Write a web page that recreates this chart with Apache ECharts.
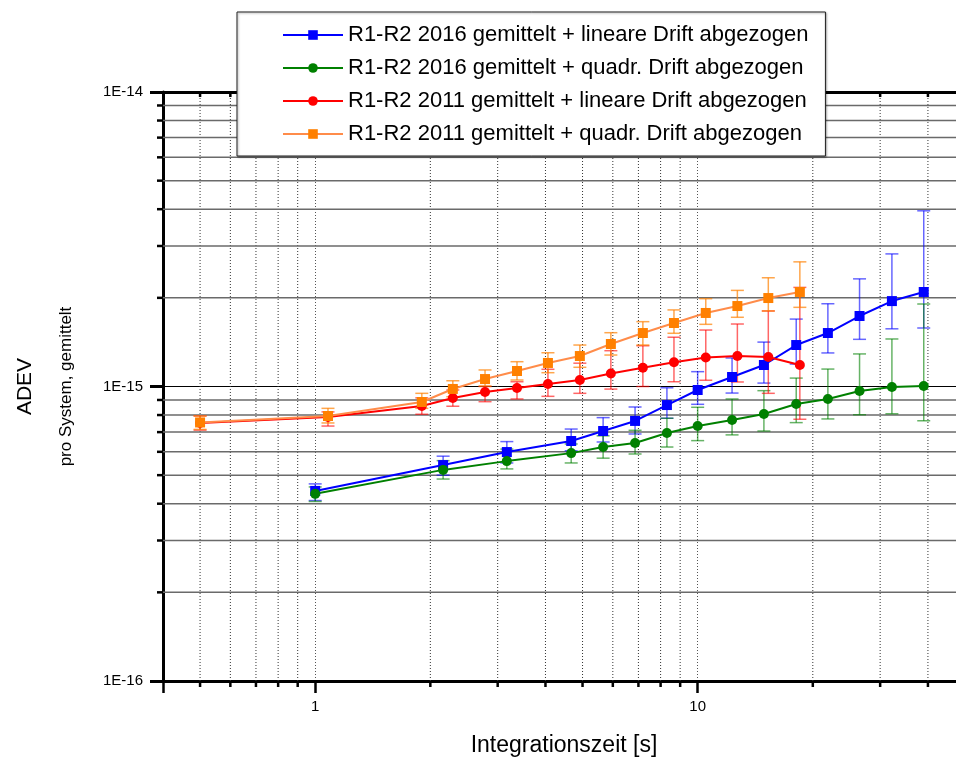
<!DOCTYPE html>
<html>
<head>
<meta charset="utf-8">
<title>ADEV</title>
<script src="https://cdn.jsdelivr.net/npm/echarts@6/dist/echarts.min.js"></script>
<style>
  html, body { margin: 0; padding: 0; background: #ffffff; }
  #chart { width: 956px; height: 758px; }
</style>
</head>
<body>
<div id="chart"></div>
<script>
// Axis ranges (log-log) and tick positions between the decades
const X_MIN = 0.4, X_MAX = 50;
const Y_MIN = 1e-16, Y_MAX = 1e-14;
const xMinorTicks = [0.5, 0.6, 0.7, 0.8, 0.9, 2, 3, 4, 5, 6, 7, 8, 9, 20, 30, 40];
const yMinorTicks = [2e-16, 3e-16, 4e-16, 5e-16, 6e-16, 7e-16, 8e-16, 9e-16,
                     2e-15, 3e-15, 4e-15, 5e-15, 6e-15, 7e-15, 8e-15, 9e-15];

const seriesNames = [
  'R1-R2 2016 gemittelt + lineare Drift abgezogen',
  'R1-R2 2016 gemittelt + quadr. Drift abgezogen',
  'R1-R2 2011 gemittelt + lineare Drift abgezogen',
  'R1-R2 2011 gemittelt + quadr. Drift abgezogen'
];

// Averaging times [s]
const tau2016 = [1.0, 2.16, 3.17, 4.67, 5.66, 6.86, 8.31, 10.0, 12.3, 14.9, 18.1, 21.9, 26.5, 32.2, 39.0];
const tau2011 = [0.5, 1.08, 1.90, 2.29, 2.78, 3.37, 4.06, 4.92, 5.93, 7.19, 8.67, 10.5, 12.7, 15.3, 18.5];

// 2016, linear drift removed
const adevLin2016 = [4.42e-16, 5.41e-16, 5.99e-16, 6.53e-16, 7.06e-16, 7.64e-16, 8.65e-16, 9.73e-16,
                     1.077e-15, 1.183e-15, 1.383e-15, 1.519e-15, 1.735e-15, 1.950e-15, 2.094e-15];
const lowLin2016  = [4.10e-16, 5.00e-16, 5.50e-16, 6.05e-16, 6.48e-16, 6.90e-16, 7.80e-16, 8.70e-16,
                     9.50e-16, 1.027e-15, 1.192e-15, 1.300e-15, 1.446e-15, 1.570e-15, 1.580e-15];
const highLin2016 = [4.67e-16, 5.80e-16, 6.50e-16, 7.17e-16, 7.84e-16, 8.52e-16, 9.90e-16, 1.123e-15,
                     1.250e-15, 1.415e-15, 1.694e-15, 1.910e-15, 2.320e-15, 2.820e-15, 3.950e-15];

// 2016, quadratic drift removed
const adevQuad2016 = [4.32e-16, 5.21e-16, 5.58e-16, 5.94e-16, 6.23e-16, 6.43e-16, 6.95e-16, 7.34e-16,
                      7.70e-16, 8.07e-16, 8.72e-16, 9.07e-16, 9.65e-16, 9.96e-16, 1.004e-15];
const lowQuad2016  = [4.07e-16, 4.85e-16, 5.25e-16, 5.50e-16, 5.71e-16, 5.90e-16, 6.23e-16, 6.55e-16,
                      6.85e-16, 7.06e-16, 7.54e-16, 7.76e-16, 8.02e-16, 8.08e-16, 7.65e-16];
const highQuad2016 = [4.56e-16, 5.60e-16, 6.13e-16, 6.38e-16, 6.80e-16, 7.10e-16, 7.80e-16, 8.50e-16,
                      9.07e-16, 9.68e-16, 1.068e-15, 1.146e-15, 1.290e-15, 1.450e-15, 1.906e-15];

// 2011, linear drift removed
const adevLin2011 = [7.52e-16, 7.88e-16, 8.59e-16, 9.14e-16, 9.58e-16, 9.88e-16, 1.020e-15, 1.052e-15,
                     1.107e-15, 1.158e-15, 1.208e-15, 1.254e-15, 1.269e-15, 1.260e-15, 1.183e-15];
const lowLin2011  = [7.11e-16, 7.34e-16, 8.05e-16, 8.57e-16, 8.88e-16, 9.07e-16, 9.26e-16, 9.48e-16,
                     9.80e-16, 1.000e-15, 1.038e-15, 1.050e-15, 1.036e-15, 9.48e-16, 7.74e-16];
const highLin2011 = [7.94e-16, 8.20e-16, 9.15e-16, 9.73e-16, 1.000e-15, 1.038e-15, 1.144e-15, 1.200e-15,
                     1.323e-15, 1.375e-15, 1.470e-15, 1.555e-15, 1.630e-15, 1.805e-15, 2.170e-15];

// 2011, quadratic drift removed
const adevQuad2011 = [7.55e-16, 7.94e-16, 8.86e-16, 9.81e-16, 1.060e-15, 1.129e-15, 1.202e-15, 1.269e-15,
                      1.394e-15, 1.519e-15, 1.643e-15, 1.777e-15, 1.876e-15, 1.997e-15, 2.094e-15];
const lowQuad2011  = [7.15e-16, 7.52e-16, 8.43e-16, 9.23e-16, 1.004e-15, 1.052e-15, 1.114e-15, 1.162e-15,
                      1.279e-15, 1.383e-15, 1.516e-15, 1.626e-15, 1.718e-15, 1.805e-15, 1.857e-15];
const highQuad2011 = [7.94e-16, 8.43e-16, 9.48e-16, 1.046e-15, 1.138e-15, 1.214e-15, 1.302e-15, 1.383e-15,
                      1.523e-15, 1.660e-15, 1.820e-15, 1.987e-15, 2.120e-15, 2.340e-15, 2.650e-15];

const FONT = "'Liberation Sans', Arial, Helvetica, sans-serif";

function pairs(xs, ys) { return xs.map((x, i) => [x, ys[i]]); }
function triples(xs, lo, hi) { return xs.map((x, i) => [x, lo[i], hi[i]]); }
function isDecade(v) {
  const e = Math.log10(v);
  return Math.abs(e - Math.round(e)) < 1e-9;
}

// Vertical error bars with caps
function errorBars(color, data) {
  return {
    type: 'custom',
    silent: true,
    clip: false,
    data: data,
    encode: { x: 0, y: [1, 2] },
    renderItem: function (params, api) {
      const x = api.value(0);
      const lo = api.coord([x, api.value(1)]);
      const hi = api.coord([x, api.value(2)]);
      const cap = 6.5;
      const style = { stroke: color, lineWidth: 1.5, fill: null };
      return {
        type: 'group',
        children: [
          { type: 'line', shape: { x1: lo[0], y1: lo[1], x2: hi[0], y2: hi[1] }, style: style },
          { type: 'line', shape: { x1: lo[0] - cap, y1: lo[1], x2: lo[0] + cap, y2: lo[1] }, style: style },
          { type: 'line', shape: { x1: hi[0] - cap, y1: hi[1], x2: hi[0] + cap, y2: hi[1] }, style: style }
        ]
      };
    }
  };
}

function adevLine(name, data, color, lineColor, symbol) {
  return {
    name: name,
    type: 'line',
    data: data,
    symbol: symbol,
    symbolSize: 10,
    showAllSymbol: true,
    itemStyle: { color: color },
    lineStyle: { color: lineColor, width: 2 },
    emphasis: { disabled: true }
  };
}

// Dotted verticals at the intermediate x ticks, plus their short tick marks
const xGridSeries = {
  type: 'custom',
  silent: true,
  clip: false,
  z: 1,
  data: xMinorTicks.map(v => [v, Y_MIN]),
  encode: { x: 0, y: 1 },
  renderItem: function (params, api) {
    const v = api.value(0);
    const b = api.coord([v, Y_MIN]);
    const t = api.coord([v, Y_MAX]);
    const tickStyle = { stroke: '#000', lineWidth: 2.5 };
    return {
      type: 'group',
      children: [
        { type: 'line', shape: { x1: b[0], y1: b[1], x2: t[0], y2: t[1] },
          style: { stroke: '#333', lineWidth: 1, lineDash: [1, 2] } },
        { type: 'line', shape: { x1: b[0], y1: b[1], x2: b[0], y2: b[1] + 6 }, style: tickStyle },
        { type: 'line', shape: { x1: t[0], y1: t[1], x2: t[0], y2: t[1] + 5 }, style: tickStyle }
      ]
    };
  }
};

// Horizontal lines at the intermediate y ticks, plus outward ticks on the left axis
const yGridSeries = {
  type: 'custom',
  silent: true,
  clip: false,
  z: 1,
  data: yMinorTicks.map(v => [X_MIN, v]),
  encode: { x: 0, y: 1 },
  renderItem: function (params, api) {
    const v = api.value(1);
    const l = api.coord([X_MIN, v]);
    const r = api.coord([X_MAX, v]);
    return {
      type: 'group',
      children: [
        { type: 'line', shape: { x1: l[0], y1: l[1], x2: r[0], y2: r[1] },
          style: { stroke: '#6a6a6a', lineWidth: 1.5 } },
        { type: 'line', shape: { x1: l[0] - 6, y1: l[1], x2: l[0], y2: l[1] },
          style: { stroke: '#000', lineWidth: 2.5 } }
      ]
    };
  }
};

const axisLineStyle = { color: '#000', width: 3 };

const option = {
  animation: false,
  backgroundColor: '#ffffff',
  textStyle: { fontFamily: FONT },
  grid: { left: 163, top: 92, right: -9, bottom: 77, containLabel: false, outerBoundsMode: 'none' },
  legend: {
    data: seriesNames,
    orient: 'vertical',
    left: 237,
    top: 12,
    padding: [12, 17, 11, 45],
    itemWidth: 60,
    itemHeight: 12,
    itemGap: 11,
    backgroundColor: '#ffffff',
    borderColor: '#222',
    borderWidth: 1,
    shadowColor: 'rgba(0,0,0,0.35)',
    shadowBlur: 2,
    shadowOffsetX: 1,
    shadowOffsetY: 1,
    selectedMode: false,
    textStyle: { fontFamily: FONT, fontSize: 22, lineHeight: 22, color: '#000' }
  },
  xAxis: [
    {
      type: 'log',
      logBase: 10,
      min: X_MIN,
      max: X_MAX,
      position: 'bottom',
      axisLine: { show: true, lineStyle: axisLineStyle },
      axisTick: { show: true, length: 12, lineStyle: { color: '#000', width: 2.5 } },
      axisLabel: {
        margin: 18,
        fontFamily: FONT,
        fontSize: 15,
        color: '#000',
        formatter: v => (isDecade(v) ? String(Math.round(v)) : '')
      },
      splitLine: { show: true, lineStyle: { color: '#555', width: 1, type: [1, 2] } },
      name: 'Integrationszeit [s]',
      nameLocation: 'middle',
      nameGap: 53,
      nameTextStyle: { fontFamily: FONT, fontSize: 23, color: '#000' }
    },
    {
      type: 'log',
      logBase: 10,
      min: X_MIN,
      max: X_MAX,
      position: 'top',
      axisLine: { show: true, lineStyle: axisLineStyle },
      axisTick: { show: true, inside: true, length: 7, lineStyle: { color: '#000', width: 2.5 } },
      axisLabel: { show: false },
      splitLine: { show: false }
    }
  ],
  yAxis: {
    type: 'log',
    logBase: 10,
    min: Y_MIN,
    max: Y_MAX,
    axisLine: { show: true, lineStyle: axisLineStyle },
    axisTick: { show: true, length: 13, lineStyle: { color: '#000', width: 3 } },
    axisLabel: {
      margin: 20,
      fontFamily: FONT,
      fontSize: 15,
      color: '#000',
      formatter: v => '1E' + Math.round(Math.log10(v))
    },
    splitLine: { show: true, lineStyle: { color: '#000', width: 1 } },
    name: '{a|ADEV}\n{b|pro System, gemittelt}',
    nameLocation: 'middle',
    nameRotate: 90,
    nameGap: 87,
    nameTextStyle: {
      fontFamily: FONT,
      color: '#000',
      rich: {
        a: { fontFamily: FONT, fontSize: 21, lineHeight: 62, color: '#000' },
        b: { fontFamily: FONT, fontSize: 17, lineHeight: 20, color: '#000' }
      }
    }
  },
  series: [
    xGridSeries,
    yGridSeries,
    errorBars('rgba(0,0,255,0.6)', triples(tau2016, lowLin2016, highLin2016)),
    adevLine(seriesNames[0], pairs(tau2016, adevLin2016), '#0000ff', '#0000ff', 'rect'),
    errorBars('rgba(0,128,0,0.6)', triples(tau2016, lowQuad2016, highQuad2016)),
    adevLine(seriesNames[1], pairs(tau2016, adevQuad2016), '#008000', '#008000', 'circle'),
    errorBars('rgba(255,0,0,0.6)', triples(tau2011, lowLin2011, highLin2011)),
    adevLine(seriesNames[2], pairs(tau2011, adevLin2011), '#ff0000', '#ff0000', 'circle'),
    errorBars('rgba(255,128,0,0.7)', triples(tau2011, lowQuad2011, highQuad2011)),
    adevLine(seriesNames[3], pairs(tau2011, adevQuad2011), '#ff8000', '#ff8c4a', 'rect')
  ]
};

const chart = echarts.init(document.getElementById('chart'), null, { renderer: 'canvas' });
chart.setOption(option);
</script>
</body>
</html>
